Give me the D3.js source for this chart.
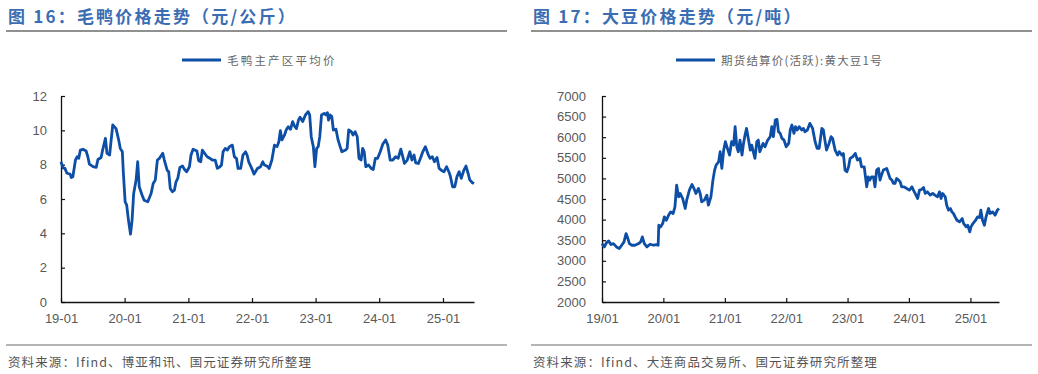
<!DOCTYPE html>
<html lang="zh">
<head>
<meta charset="utf-8">
<title>毛鸭与大豆价格走势</title>
<script src="https://cdn.jsdelivr.net/npm/d3@7"></script>
<style>
  body { margin: 0; background: #fff; }
  svg text { font-family: "Liberation Sans", Arial, sans-serif; }
  svg text.cjk { font-family: "Noto Sans CJK SC", sans-serif; }
</style>
</head>
<body>
<script>
// ---- data ----
var duckDates = ["2019-01-01","2019-01-13","2019-01-23","2019-02-04","2019-02-22","2019-03-01","2019-03-10","2019-03-25","2019-04-04","2019-04-13","2019-04-22","2019-05-07","2019-05-25","2019-06-04","2019-06-13","2019-07-04","2019-07-22","2019-08-01","2019-08-19","2019-08-28","2019-09-13","2019-09-22","2019-10-07","2019-10-16","2019-10-25","2019-11-13","2019-11-28","2019-12-07","2019-12-19","2019-12-25",
  "2020-01-04","2020-01-13","2020-01-23","2020-02-04","2020-02-13","2020-02-22","2020-03-07","2020-03-16","2020-03-25","2020-04-10","2020-04-22","2020-05-13","2020-06-01","2020-06-13","2020-06-25","2020-07-07","2020-07-19","2020-08-07","2020-08-16","2020-09-01","2020-09-10","2020-09-19","2020-10-01","2020-10-13","2020-10-22","2020-11-01","2020-11-13","2020-11-28","2020-12-10","2020-12-22",
  "2021-01-07","2021-01-16","2021-01-28","2021-02-19","2021-03-01","2021-03-13","2021-03-22","2021-04-07","2021-04-19","2021-05-04","2021-05-19","2021-06-04","2021-06-16","2021-07-01","2021-07-10","2021-07-19","2021-08-01","2021-08-13","2021-08-25","2021-09-10","2021-09-22","2021-10-04","2021-10-13","2021-10-28","2021-11-10","2021-11-25","2021-12-04","2021-12-13","2021-12-28",
  "2022-01-13","2022-02-01","2022-02-19","2022-03-04","2022-03-13","2022-03-28","2022-04-10","2022-04-25","2022-05-10","2022-05-25","2022-06-04","2022-06-13","2022-06-22","2022-07-07","2022-07-16","2022-07-28","2022-08-10","2022-08-22","2022-09-04","2022-09-13","2022-09-25","2022-10-04","2022-10-19","2022-11-04","2022-11-19","2022-11-28","2022-12-07","2022-12-19","2022-12-28",
  "2023-01-07","2023-01-16","2023-01-25","2023-02-04","2023-02-19","2023-03-01","2023-03-10","2023-03-16","2023-03-25","2023-04-04","2023-04-13","2023-04-28","2023-05-10","2023-05-22","2023-06-01","2023-06-22","2023-07-01","2023-07-10","2023-07-25","2023-08-04","2023-08-16","2023-08-28","2023-09-07","2023-09-19","2023-09-28","2023-10-07","2023-10-16","2023-11-01","2023-11-16","2023-11-28","2023-12-10","2023-12-23",
  "2024-01-07","2024-01-22","2024-02-07","2024-02-19","2024-03-04","2024-03-19","2024-04-04","2024-04-19","2024-05-04","2024-05-13","2024-05-25","2024-06-10","2024-06-25","2024-07-07","2024-07-19","2024-07-28","2024-08-13","2024-08-28","2024-09-07","2024-09-22","2024-10-07","2024-10-19","2024-11-01","2024-11-13","2024-11-28","2024-12-10","2024-12-22",
  "2025-01-07","2025-01-22","2025-02-07","2025-02-13","2025-02-25","2025-03-10","2025-03-22","2025-04-04","2025-04-16","2025-05-01","2025-05-13","2025-05-25","2025-06-04","2025-06-19","2025-06-28"];
var duckPrice = [8.17,7.8,7.8,7.5,7.45,7.25,7.3,8.27,8.46,8.37,8.85,8.9,8.8,8.46,8.03,7.88,7.84,8.3,8.42,8.85,9.53,8.66,8.56,9.44,10.31,10.1,9.44,8.95,8.75,7.5,
  5.84,5.64,4.77,3.95,4.77,6.32,7.1,8.17,6.71,6.23,5.93,5.84,6.32,6.9,7.1,8.27,8.37,8.66,8.27,7.68,7.59,6.61,6.42,6.52,7.0,7.2,7.84,7.92,7.72,7.59,
  7.88,8.56,8.9,8.8,8.23,8.17,8.85,8.62,8.46,8.37,8.27,8.27,7.78,7.88,7.98,8.75,8.95,8.85,9.05,9.14,8.46,8.37,7.78,7.78,8.56,8.75,8.56,8.17,7.84,
  7.45,7.78,7.88,8.17,7.98,7.92,7.78,8.27,9.14,9.05,9.34,9.98,9.44,9.73,10.02,10.21,10.06,10.51,10.21,10.1,10.6,10.76,10.51,10.9,11.09,10.9,9.63,9.05,7.88,
  8.95,9.05,9.63,10.9,10.99,10.9,11.03,10.6,10.9,10.8,10.02,10.06,9.44,9.05,8.75,8.85,8.95,10.02,9.92,9.73,9.92,9.63,8.37,8.27,8.95,8.75,7.88,7.98,7.78,7.72,8.37,8.37,
  8.75,9.2,9.44,9.14,8.27,8.27,8.46,8.37,8.9,8.56,8.07,8.27,8.75,8.27,8.56,8.11,8.07,8.46,8.75,9.05,8.62,8.37,8.46,8.17,8.42,7.78,7.68,
  7.59,7.88,7.5,7.3,6.71,6.71,7.3,7.59,7.2,7.68,7.92,7.5,7.1,6.95,6.9];

var soyDates = ["2019-01-01","2019-01-15","2019-01-27","2019-02-10","2019-02-23","2019-03-10","2019-03-28","2019-04-14","2019-04-28","2019-05-12","2019-05-24","2019-06-01","2019-06-13","2019-06-28","2019-07-16","2019-08-07","2019-08-19","2019-08-29","2019-09-10","2019-09-25","2019-10-14","2019-11-04","2019-11-23","2019-12-01","2019-12-05","2019-12-16","2019-12-28",
  "2020-01-07","2020-01-19","2020-02-01","2020-02-13","2020-02-28","2020-03-10","2020-03-20","2020-04-01","2020-04-10","2020-04-25","2020-05-10","2020-05-19","2020-06-04","2020-06-19","2020-07-01","2020-07-13","2020-07-28","2020-08-07","2020-08-16","2020-09-01","2020-09-16","2020-09-25","2020-10-10","2020-10-22","2020-11-01","2020-11-10","2020-11-25","2020-12-04","2020-12-14","2020-12-25",
  "2021-01-04","2021-01-13","2021-01-29","2021-02-10","2021-02-22","2021-03-03","2021-03-13","2021-03-22","2021-04-01","2021-04-13","2021-04-22","2021-05-01","2021-05-10","2021-05-22","2021-06-01","2021-06-10","2021-06-19","2021-06-29","2021-07-10","2021-07-19","2021-07-28","2021-08-16","2021-08-28","2021-09-13","2021-09-28","2021-10-07","2021-10-17","2021-10-28","2021-11-07","2021-11-16","2021-11-26","2021-12-07","2021-12-19",
  "2022-01-01","2022-01-16","2022-01-25","2022-02-04","2022-02-16","2022-02-25","2022-03-07","2022-03-19","2022-04-04","2022-04-13","2022-04-22","2022-05-07","2022-05-22","2022-06-07","2022-06-22","2022-07-04","2022-07-16","2022-08-01","2022-08-10","2022-08-19","2022-08-29","2022-09-13","2022-09-25","2022-10-04","2022-10-19","2022-11-03","2022-11-13","2022-11-28","2022-12-07","2022-12-17","2022-12-28",
  "2023-01-07","2023-01-16","2023-02-01","2023-02-16","2023-03-01","2023-03-16","2023-03-25","2023-04-10","2023-04-25","2023-05-04","2023-05-13","2023-05-23","2023-06-04","2023-06-13","2023-06-23","2023-07-04","2023-07-13","2023-07-22","2023-08-02","2023-08-22","2023-09-01","2023-09-11","2023-09-22","2023-10-01","2023-10-10","2023-10-20","2023-11-01","2023-11-10","2023-11-19","2023-12-04","2023-12-19",
  "2024-01-04","2024-01-19","2024-01-28","2024-02-07","2024-02-22","2024-03-04","2024-03-16","2024-03-28","2024-04-07","2024-04-20","2024-05-07","2024-05-22","2024-06-04","2024-06-19","2024-07-01","2024-07-10","2024-07-19","2024-08-04","2024-08-13","2024-08-23","2024-09-04","2024-09-13","2024-09-22","2024-10-02","2024-10-13","2024-10-28","2024-11-13","2024-11-22","2024-12-07","2024-12-16","2024-12-28",
  "2025-01-04","2025-01-16","2025-02-01","2025-02-13","2025-02-25","2025-03-04","2025-03-14","2025-03-25","2025-04-04","2025-04-19","2025-04-28","2025-05-13","2025-05-28","2025-06-10","2025-06-20"];
var soyPrice = [3418,3337,3434,3483,3394,3418,3337,3297,3378,3459,3661,3580,3418,3378,3378,3418,3459,3580,3418,3337,3402,3378,3394,3378,3864,3823,3904,
  4067,3985,4107,4188,4148,4310,4836,4553,4634,4512,4269,4472,4715,4853,4756,4634,4756,4634,4431,4472,4593,4350,4553,4958,5201,5323,5404,5647,5242,5687,
  5890,5768,5566,5890,5809,6255,5768,5647,5930,5566,5850,6052,6214,5930,5687,5809,5647,5485,5890,5930,5647,5850,5768,5930,6012,6255,6012,6417,6433,6133,6093,5971,5930,
  5768,5850,6174,6295,6093,6255,6174,6255,6174,6214,6133,6174,6336,6214,5890,5728,5728,6214,6174,5930,5687,5850,6012,5971,5687,5566,5647,5566,5606,5201,5161,
  5282,5485,5525,5606,5444,5485,5282,5282,4796,5039,4958,5039,5039,4796,5201,5242,4958,5080,5201,5242,5120,4998,4958,4877,4877,4998,4958,4917,4796,4796,4755,
  4715,4796,4715,4634,4512,4715,4731,4780,4634,4674,4593,4634,4593,4553,4674,4512,4634,4553,4350,4229,4269,4188,4148,4067,3985,3945,4026,3904,3823,3864,3702,
  3823,3904,3985,4067,4050,4229,3985,3864,4067,4269,4148,4188,4107,4229,4269];

var duckYTicks = [0, 2, 4, 6, 8, 10, 12];
var soyYTicks = [2000, 2500, 3000, 3500, 4000, 4500, 5000, 5500, 6000, 6500, 7000];
var duckXLabels = ["19-01","20-01","21-01","22-01","23-01","24-01","25-01"];
var soyXLabels = ["19/01","20/01","21/01","22/01","23/01","24/01","25/01"];

var parse = d3.timeParse("%Y-%m-%d");
var lineColor = "#0d4ea6";
var tickColor = "#595959";

var svg = d3.select("body").append("svg")
  .attr("width", 1038)
  .attr("height", 374);

function drawPanel(p) {
  var g = svg.append("g");

  // title + rules
  g.append("text").attr("class", "cjk")
    .attr("x", p.left).attr("y", 23)
    .attr("fill", "#3b6db3").attr("font-size", 17).attr("font-weight", "bold")
    .attr("letter-spacing", 2.2)
    .text(p.title);
  g.append("line").attr("x1", p.left - 2).attr("x2", p.left + 499)
    .attr("y1", 31).attr("y2", 31).attr("stroke", "#6b6b6b").attr("stroke-width", 1.5);
  g.append("line").attr("x1", p.left - 2).attr("x2", p.left + 499)
    .attr("y1", 345).attr("y2", 345).attr("stroke", "#6b6b6b").attr("stroke-width", 1.2);
  g.append("text").attr("class", "cjk")
    .attr("x", p.left).attr("y", 367)
    .attr("fill", "#555").attr("font-size", 12.5).attr("letter-spacing", 1.1)
    .text(p.source);

  // legend
  g.append("line").attr("x1", p.legendX).attr("x2", p.legendX + 39)
    .attr("y1", 60).attr("y2", 60).attr("stroke", lineColor).attr("stroke-width", 3);
  g.append("text").attr("class", "cjk")
    .attr("x", p.legendX + 45).attr("y", 64.5)
    .attr("fill", "#666").attr("font-size", 11.5).attr("letter-spacing", p.legendSpacing)
    .text(p.legend);

  var dates = p.dates.map(parse);
  var x = d3.scaleTime()
    .domain([parse("2019-01-01"), dates[dates.length - 1]])
    .range([p.x0, p.x1]);
  var y = d3.scaleLinear()
    .domain([p.yTicks[0], p.yTicks[p.yTicks.length - 1]])
    .range([302, 96]);

  var yearTicks = d3.timeYear.range(parse("2019-01-01"), parse("2025-12-31"));

  var xAxis = g.append("g")
    .attr("transform", "translate(0,302)")
    .call(d3.axisBottom(x)
      .tickValues(yearTicks)
      .tickFormat(function(d, i) { return p.xLabels[i]; })
      .tickSize(-4).tickSizeOuter(0).tickPadding(12));

  var yAxis = g.append("g")
    .attr("transform", "translate(" + p.x0 + ",0)")
    .call(d3.axisLeft(y)
      .tickValues(p.yTicks)
      .tickFormat(d3.format("d"))
      .tickSize(-4).tickSizeOuter(0).tickPadding(p.yPad));

  [xAxis, yAxis].forEach(function(a) {
    a.select(".domain").attr("stroke", "#111").attr("stroke-width", 1.3);
    a.selectAll(".tick line").attr("stroke", "#111").attr("stroke-width", 1.2);
    a.selectAll(".tick text").attr("fill", tickColor).attr("font-size", 13);
  });

  var line = d3.line()
    .x(function(d, i) { return x(dates[i]); })
    .y(function(d) { return y(d); });

  g.append("path")
    .datum(p.values)
    .attr("fill", "none")
    .attr("stroke", lineColor)
    .attr("stroke-width", 2.8)
    .attr("stroke-linejoin", "round")
    .attr("d", line);
}

drawPanel({
  title: "图 16：毛鸭价格走势（元/公斤）",
  source: "资料来源：Ifind、博亚和讯、国元证券研究所整理",
  legend: "毛鸭主产区平均价",
  left: 8, legendX: 182, legendSpacing: 2.2,
  x0: 61, x1: 474, yPad: 14,
  dates: duckDates, values: duckPrice,
  yTicks: duckYTicks, xLabels: duckXLabels
});

drawPanel({
  title: "图 17：大豆价格走势（元/吨）",
  source: "资料来源：Ifind、大连商品交易所、国元证券研究所整理",
  legend: "期货结算价(活跃):黄大豆1号",
  left: 533, legendX: 676, legendSpacing: 1.2,
  x0: 602, x1: 999, yPad: 16,
  dates: soyDates, values: soyPrice,
  yTicks: soyYTicks, xLabels: soyXLabels
});
</script>
</body>
</html>
